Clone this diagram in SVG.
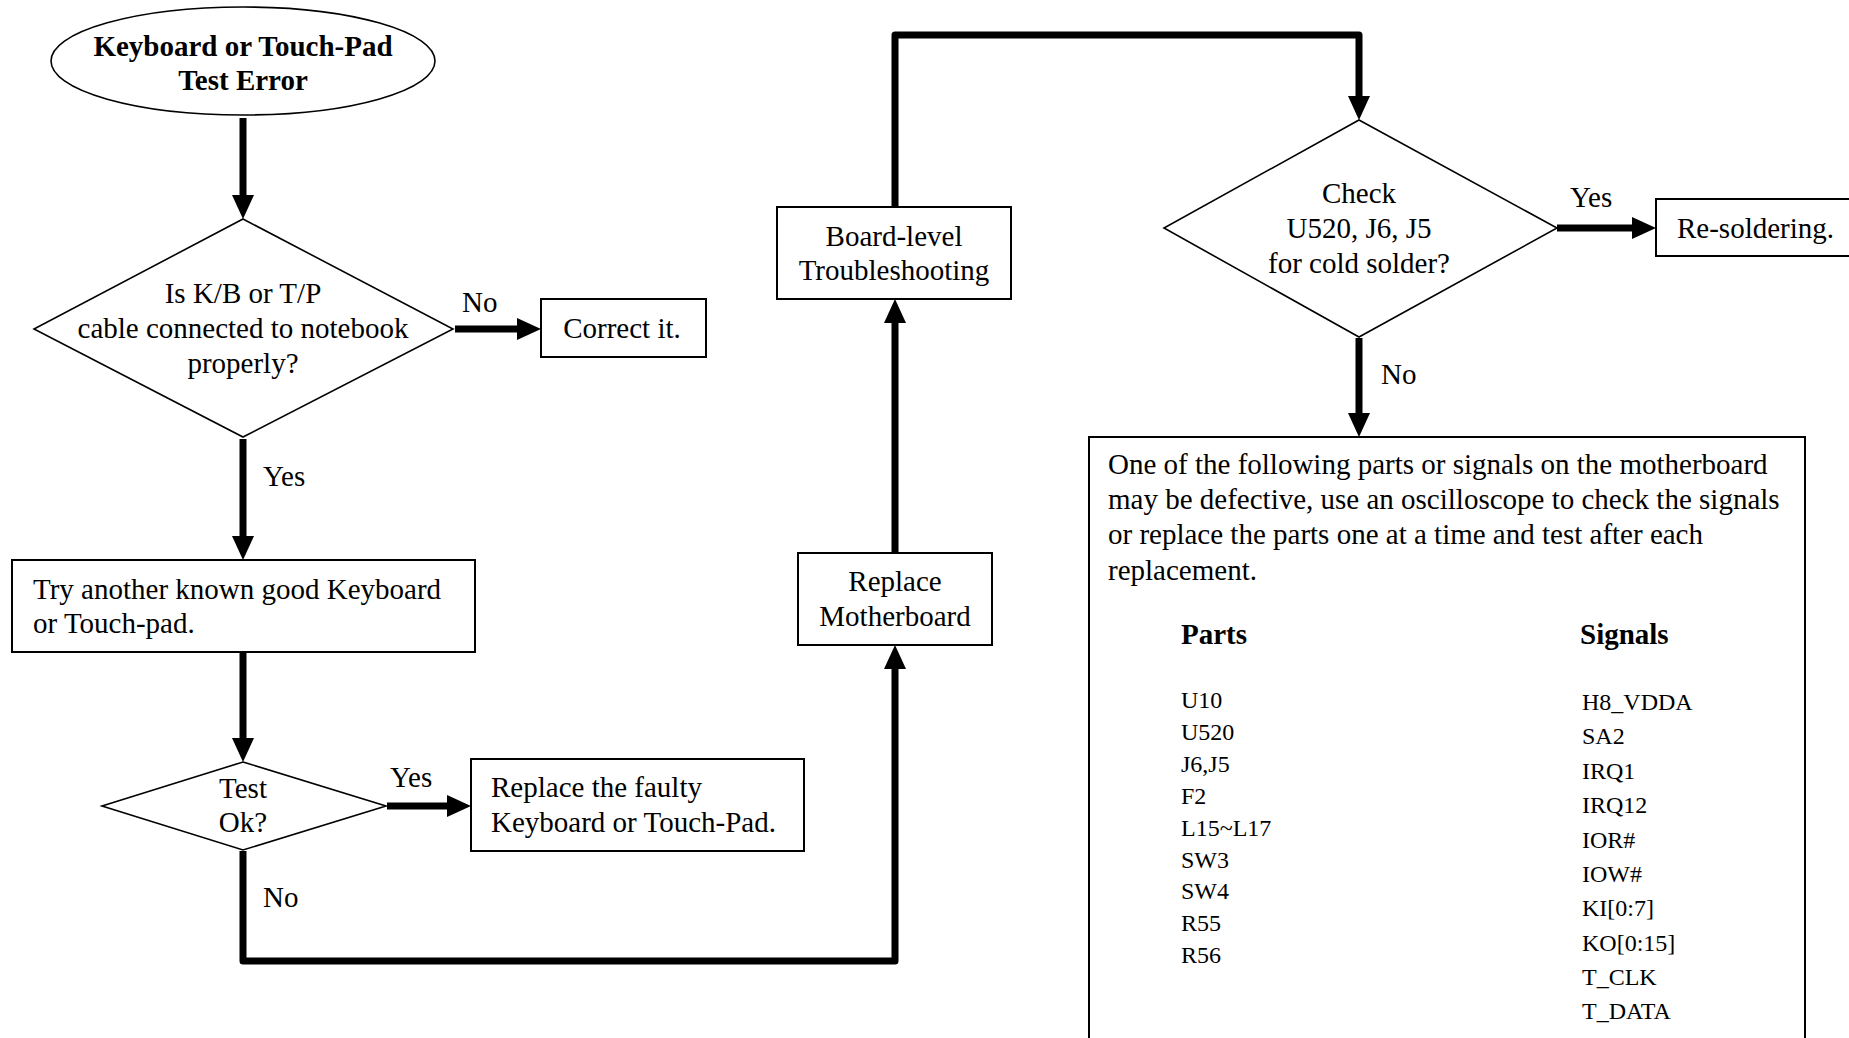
<svg xmlns="http://www.w3.org/2000/svg" width="1849" height="1038" viewBox="0 0 1849 1038">
<defs>
<style>
text{font-family:"Liberation Serif","Times New Roman",serif;font-size:29px;fill:#000}
.c{text-anchor:middle}
.b{font-weight:bold}
.s{font-size:24px}
.box{fill:#fff;stroke:#000;stroke-width:2}
.dia{fill:#fff;stroke:#000;stroke-width:1.6}
.con{fill:none;stroke:#000;stroke-width:7;stroke-linejoin:round;marker-end:url(#ah)}
</style>
<marker id="ah" markerUnits="userSpaceOnUse" markerWidth="24" markerHeight="22" viewBox="0 0 24 22" refX="1" refY="11" orient="auto">
<path d="M0,0 L24,11 L0,22 z" fill="#000"/>
</marker>
</defs>
<rect width="1849" height="1038" fill="#fff"/>
<g id="connectors">
<path class="con" d="M243,118 L243,196"/>
<path class="con" d="M455,329 L518,329"/>
<path class="con" d="M243,439 L243,537"/>
<path class="con" d="M243,653 L243,739"/>
<path class="con" d="M387,806 L448,806"/>
<path class="con" d="M243,851 L243,961 L895,961 L895,668"/>
<path class="con" d="M895,553 L895,322"/>
<path class="con" d="M895,207 L895,35 L1359,35 L1359,97"/>
<path class="con" d="M1557,228 L1633,228"/>
<path class="con" d="M1359,338 L1359,414"/>
</g>
<g id="start">
<ellipse class="dia" cx="243" cy="61" rx="192" ry="54" stroke-width="2"/>
<text class="c b" x="243" y="56">Keyboard or Touch-Pad</text>
<text class="c b" x="243" y="90">Test Error</text>
</g>
<g id="dec-cable">
<polygon class="dia" points="243,219 453,329 243,437 34,329"/>
<text class="c" x="243" y="303">Is K/B or T/P</text>
<text class="c" x="243" y="338">cable connected to notebook</text>
<text class="c" x="243" y="373">properly?</text>
</g>
<g id="lbl-no1"><text x="462" y="312">No</text></g>
<g id="correct">
<rect class="box" x="541" y="299" width="165" height="58"/>
<text class="c" x="622" y="338">Correct it.</text>
</g>
<g id="lbl-yes1"><text x="263" y="486">Yes</text></g>
<g id="try">
<rect class="box" x="12" y="560" width="463" height="92"/>
<text x="33" y="599">Try another known good Keyboard</text>
<text x="33" y="633">or Touch-pad.</text>
</g>
<g id="dec-test">
<polygon class="dia" points="243,762 386,806 243,850 102,806"/>
<text class="c" x="243" y="798">Test</text>
<text class="c" x="243" y="832">Ok?</text>
</g>
<g id="lbl-yes2"><text x="390" y="787">Yes</text></g>
<g id="replace-kb">
<rect class="box" x="471" y="759" width="333" height="92"/>
<text x="491" y="797">Replace the faulty</text>
<text x="491" y="832">Keyboard or Touch-Pad.</text>
</g>
<g id="lbl-no2"><text x="263" y="907">No</text></g>
<g id="replace-mb">
<rect class="box" x="798" y="553" width="194" height="92"/>
<text class="c" x="895" y="591">Replace</text>
<text class="c" x="895" y="626">Motherboard</text>
</g>
<g id="board">
<rect class="box" x="777" y="207" width="234" height="92"/>
<text class="c" x="894" y="246">Board-level</text>
<text class="c" x="894" y="280">Troubleshooting</text>
</g>
<g id="dec-check">
<polygon class="dia" points="1359,120 1557,228 1359,337 1164,228"/>
<text class="c" x="1359" y="203">Check</text>
<text class="c" x="1359" y="238">U520, J6, J5</text>
<text class="c" x="1359" y="273">for cold solder?</text>
</g>
<g id="lbl-yes3"><text x="1570" y="207">Yes</text></g>
<g id="resolder">
<rect class="box" x="1656" y="199" width="210" height="57"/>
<text x="1677" y="238">Re-soldering.</text>
</g>
<g id="lbl-no3"><text x="1381" y="384">No</text></g>
<g id="parts-box">
<rect class="box" x="1089" y="437" width="716" height="640"/>
<text x="1108" y="474">One of the following parts or signals on the motherboard</text>
<text x="1108" y="509">may be defective, use an oscilloscope to check the signals</text>
<text x="1108" y="544">or replace the parts one at a time and test after each</text>
<text x="1108" y="580">replacement.</text>
<text class="b" x="1181" y="644">Parts</text>
<text class="b" x="1580" y="644">Signals</text>
<text class="s" x="1181" y="708">U10</text>
<text class="s" x="1181" y="740">U520</text>
<text class="s" x="1181" y="772">J6,J5</text>
<text class="s" x="1181" y="804">F2</text>
<text class="s" x="1181" y="836">L15~L17</text>
<text class="s" x="1181" y="868">SW3</text>
<text class="s" x="1181" y="899">SW4</text>
<text class="s" x="1181" y="931">R55</text>
<text class="s" x="1181" y="963">R56</text>
<text class="s" x="1582" y="710">H8_VDDA</text>
<text class="s" x="1582" y="744">SA2</text>
<text class="s" x="1582" y="779">IRQ1</text>
<text class="s" x="1582" y="813">IRQ12</text>
<text class="s" x="1582" y="848">IOR#</text>
<text class="s" x="1582" y="882">IOW#</text>
<text class="s" x="1582" y="916">KI[0:7]</text>
<text class="s" x="1582" y="951">KO[0:15]</text>
<text class="s" x="1582" y="985">T_CLK</text>
<text class="s" x="1582" y="1019">T_DATA</text>
</g>
</svg>
